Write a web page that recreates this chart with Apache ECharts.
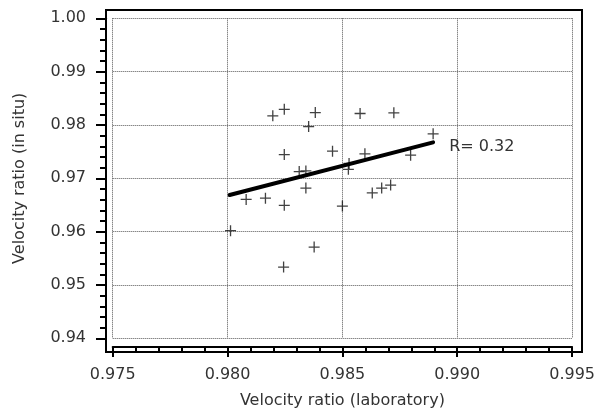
<!DOCTYPE html>
<html>
<head>
<meta charset="utf-8">
<script src="https://cdn.jsdelivr.net/npm/echarts@6/dist/echarts.min.js"></script>
<style>
html,body{margin:0;padding:0;background:#fff;}
#chart{width:598px;height:414px;}
</style>
</head>
<body>
<div id="chart"></div>
<script>
// Velocity ratio (laboratory) values
const labX = [0.98197, 0.98247, 0.98382, 0.98353, 0.98247, 0.98457, 0.98312, 0.98341, 0.98341, 0.98081,
              0.98165, 0.98247, 0.98013, 0.98377, 0.98244, 0.98500, 0.98577, 0.98724, 0.98895, 0.98797,
              0.98598, 0.98529, 0.98526, 0.98630, 0.98671, 0.98710];
// Velocity ratio (in situ) values
const situY = [0.98172, 0.98294, 0.98233, 0.97969, 0.97445, 0.97508, 0.97126, 0.97139, 0.96817, 0.96603,
               0.96627, 0.96493, 0.96018, 0.95710, 0.95335, 0.96480, 0.98215, 0.98228, 0.97833, 0.97434,
               0.97458, 0.97279, 0.97168, 0.96725, 0.96817, 0.96873];
// regression line end points
const fitX = [0.98009, 0.98895];
const fitY = [0.96688, 0.97674];
const rLabel = 'R= 0.32';
const xTitle = 'Velocity ratio (laboratory)';
const yTitle = 'Velocity ratio (in situ)';

const points = labX.map((x, i) => [x, situY[i]]);
const fitLine = fitX.map((x, i) => [x, fitY[i]]);

const FONT = 'DejaVu Sans';
const TXT = '#333';

const chart = echarts.init(document.getElementById('chart'), null, {renderer: 'canvas'});
chart.setOption({
  animation: false,
  backgroundColor: '#fff',
  grid: [
    {left: 106, top: 10, right: 16, bottom: 62, show: true, borderColor: '#000', borderWidth: 2, backgroundColor: 'transparent', z: 10},
    {left: 112.7, top: 18.3, right: 23.7, bottom: 70.7}
  ],
  xAxis: [
    {gridIndex: 0, type: 'value', show: false, min: 0, max: 1},
    {
      gridIndex: 1, type: 'value', min: 0.975, max: 0.995, interval: 0.005,
      position: 'bottom', offset: 8.7,
      name: xTitle, nameLocation: 'middle', nameGap: 46,
      nameTextStyle: {fontFamily: FONT, fontSize: 16, color: TXT},
      axisLine: {show: true, lineStyle: {color: '#000', width: 2}},
      axisTick: {show: true, inside: false, length: 10, lineStyle: {color: '#000', width: 2}},
      minorTick: {show: true, splitNumber: 5, length: 6, lineStyle: {color: '#000', width: 2}},
      axisLabel: {fontFamily: FONT, fontSize: 16, color: TXT, margin: 20,
                  formatter: v => v.toFixed(3)},
      splitLine: {show: true, showMinLine: true, showMaxLine: true, lineStyle: {type: 'dotted', color: '#555', width: 1}}
    }
  ],
  yAxis: [
    {gridIndex: 0, type: 'value', show: false, min: 0, max: 1},
    {
      gridIndex: 1, type: 'value', min: 0.94, max: 1.00, interval: 0.01,
      position: 'left', offset: 6.7,
      name: yTitle, nameLocation: 'middle', nameGap: 78,
      nameTextStyle: {fontFamily: FONT, fontSize: 16, color: TXT},
      axisLine: {show: true, lineStyle: {color: '#000', width: 2}},
      axisTick: {show: true, inside: false, length: 10, lineStyle: {color: '#000', width: 2}},
      minorTick: {show: true, splitNumber: 5, length: 6, lineStyle: {color: '#000', width: 2}},
      axisLabel: {fontFamily: FONT, fontSize: 16, color: TXT, margin: 20,
                  formatter: v => v.toFixed(2)},
      splitLine: {show: true, showMinLine: true, showMaxLine: true, lineStyle: {type: 'dotted', color: '#555', width: 1}}
    }
  ],
  series: [
    {
      type: 'scatter', xAxisIndex: 1, yAxisIndex: 1,
      data: points,
      symbol: 'path://M5,0 L5,10 M0,5 L10,5',
      symbolSize: 11,
      itemStyle: {color: 'transparent', borderColor: '#111', borderWidth: 1.3},
      z: 3
    },
    {
      type: 'line', xAxisIndex: 1, yAxisIndex: 1,
      data: fitLine,
      showSymbol: false, symbol: 'none',
      lineStyle: {color: '#000', width: 4, cap: 'round'},
      endLabel: {show: true, formatter: rLabel, distance: 16, offset: [0, 4],
                 fontFamily: FONT, fontSize: 16, color: TXT},
      z: 4
    }
  ]
});
</script>
</body>
</html>
